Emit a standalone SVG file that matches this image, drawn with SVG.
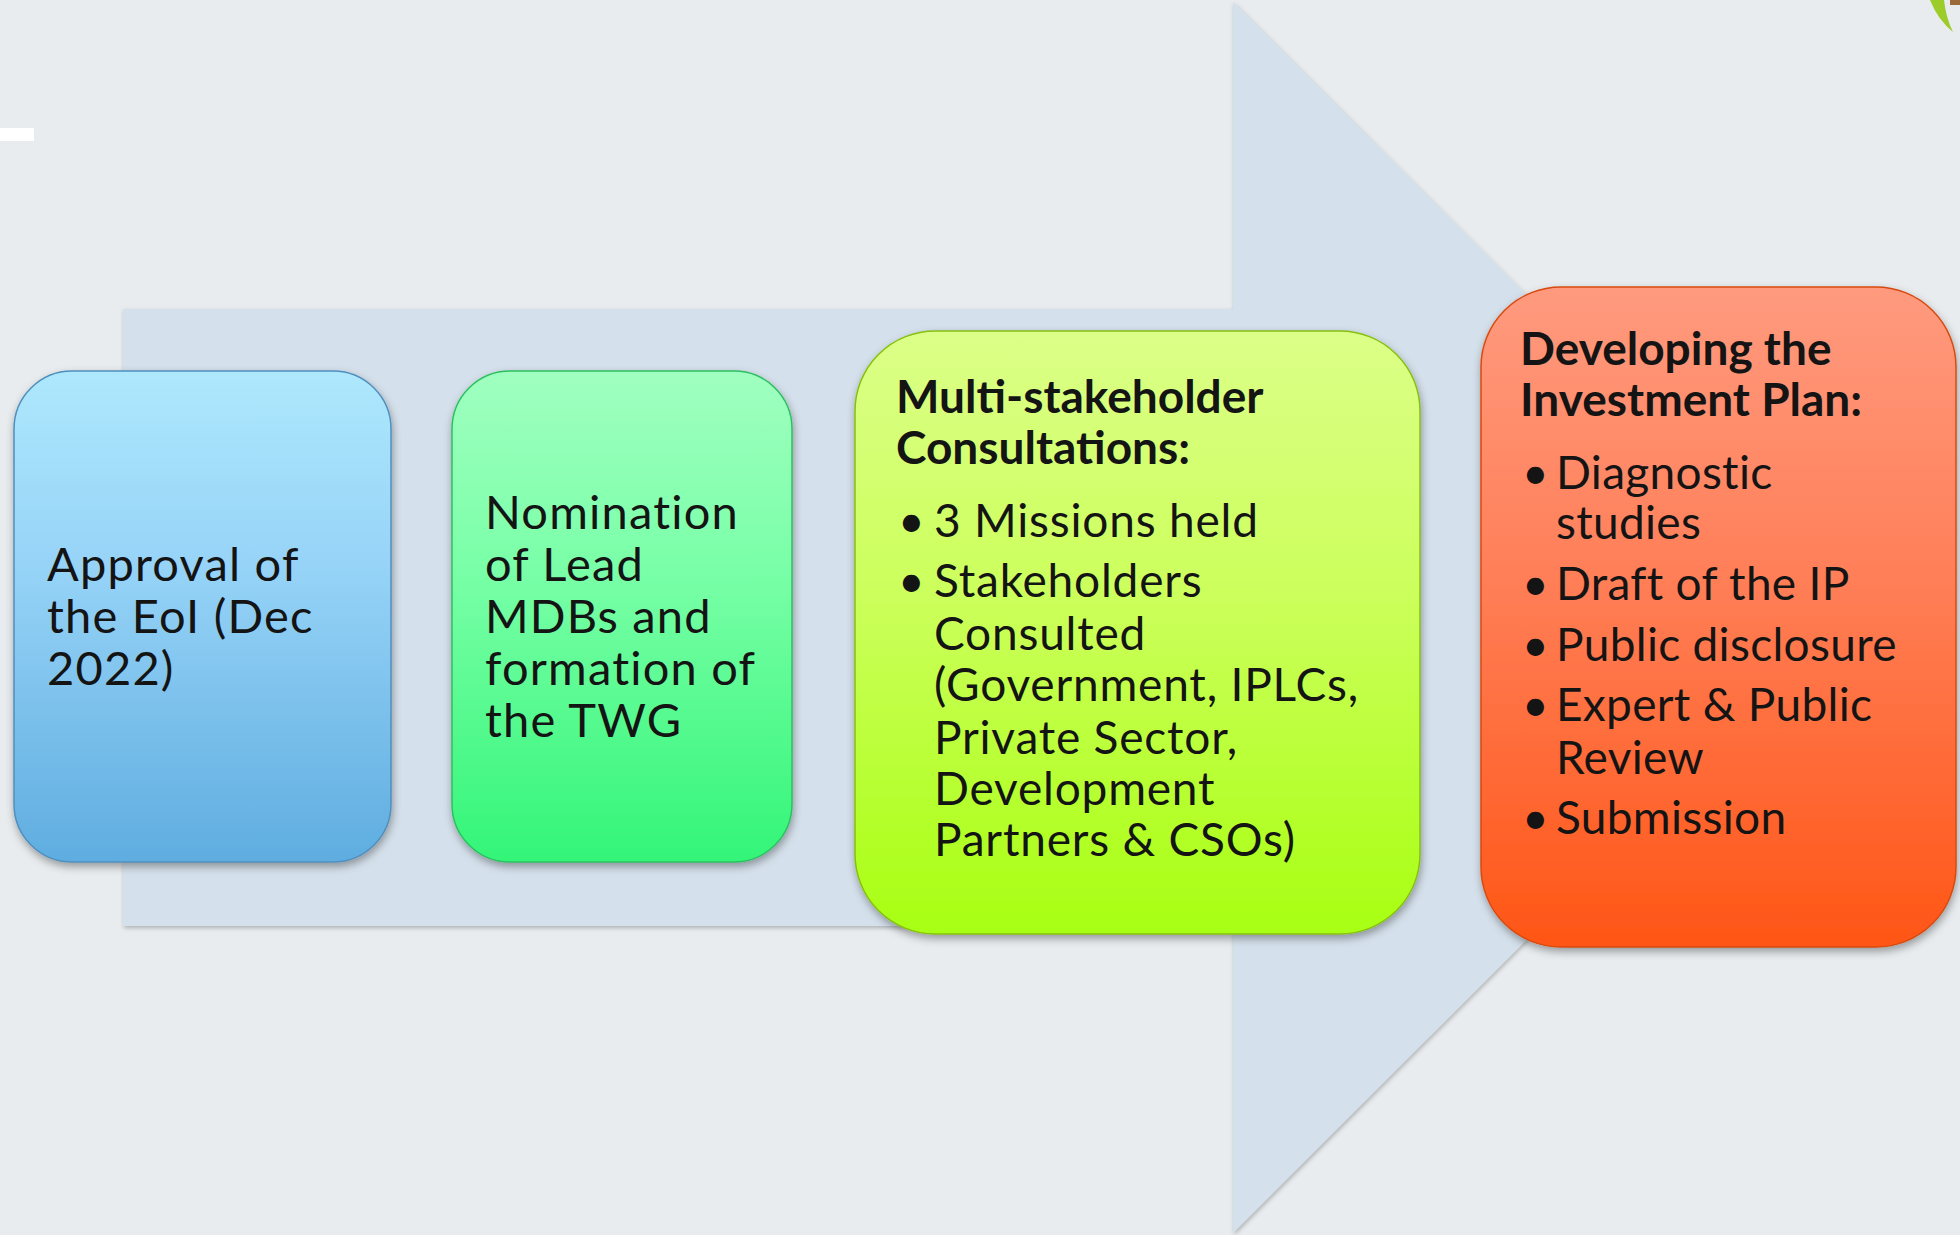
<svg xmlns="http://www.w3.org/2000/svg" width="1960" height="1235" viewBox="0 0 1960 1235">
<style>
  .t { font-family: Lato, "Noto Sans", "Liberation Sans", sans-serif; font-size: 46px; fill: #141414; letter-spacing: 0.8px; }
  .m { font-size: 47px; letter-spacing: 1.2px; }
  .n { letter-spacing: 0.3px; }
  .b { font-weight: bold; letter-spacing: 0; }
  .box { stroke-width: 1.5; }
</style>
<defs>
  <linearGradient id="gBlue" x1="0" y1="0" x2="0" y2="1">
    <stop offset="0" stop-color="#aee8fd"/>
    <stop offset="0.4" stop-color="#96d3f7"/>
    <stop offset="1" stop-color="#5fade0"/>
  </linearGradient>
  <linearGradient id="gGreen" x1="0" y1="0" x2="0" y2="1">
    <stop offset="0" stop-color="#a0ffc0"/>
    <stop offset="0.4" stop-color="#7affa8"/>
    <stop offset="1" stop-color="#33f578"/>
  </linearGradient>
  <linearGradient id="gLime" x1="0" y1="0" x2="0" y2="1">
    <stop offset="0" stop-color="#dcff88"/>
    <stop offset="0.45" stop-color="#cbff5a"/>
    <stop offset="1" stop-color="#a8ff12"/>
  </linearGradient>
  <linearGradient id="gOrange" x1="0" y1="0" x2="0" y2="1">
    <stop offset="0" stop-color="#ff9a7e"/>
    <stop offset="0.45" stop-color="#ff7e57"/>
    <stop offset="1" stop-color="#ff5616"/>
  </linearGradient>
  <filter id="sh" x="-10%" y="-10%" width="120%" height="120%">
    <feDropShadow dx="1" dy="4" stdDeviation="4" flood-color="#000" flood-opacity="0.35"/>
  </filter>
  <filter id="ash" x="-5%" y="-5%" width="110%" height="110%">
    <feDropShadow dx="1" dy="2" stdDeviation="2" flood-color="#000" flood-opacity="0.25"/>
  </filter>
</defs>
<rect width="1960" height="1235" fill="#e8ecee"/>
<rect x="0" y="128" width="34" height="13" fill="#ffffff"/>
<g id="logo">
  <path d="M1930,0 L1944,0 Q1946,18 1953,32 Q1938,20 1930,0 Z" fill="#9ccc2a"/>
  <rect x="1950" y="0" width="10" height="5" fill="#9a6a3a"/>
</g>
<g id="connectors">
  <path d="M123,309 L1233,309 L1233,2 L1849,617.5 L1233,1233 L1233,926 L123,926 Z" fill="#d4e0eb" filter="url(#ash)"/>
</g>
<g id="node1">
  <rect class="box" x="14" y="371" width="377" height="491" rx="58" fill="url(#gBlue)" stroke="#4f8fbd" filter="url(#sh)"/>
  <text class="t m"><tspan x="47" y="581">Approval of</tspan><tspan x="47" y="633">the EoI (Dec</tspan><tspan x="47" y="685">2022)</tspan></text>
</g>
<g id="node2">
  <rect class="box" x="452" y="371" width="340" height="491" rx="58" fill="url(#gGreen)" stroke="#2cc060" filter="url(#sh)"/>
  <text class="t m"><tspan x="485" y="529">Nomination</tspan><tspan x="485" y="581">of Lead</tspan><tspan x="485" y="633">MDBs and</tspan><tspan x="485" y="685">formation of</tspan><tspan x="485" y="737">the TWG</tspan></text>
</g>
<g id="node3">
  <rect class="box" x="855" y="331" width="565" height="603" rx="80" fill="url(#gLime)" stroke="#86c010" filter="url(#sh)"/>
  <text class="t b"><tspan x="896" y="413">Multi-stakeholder</tspan><tspan x="896" y="464">Consultations:</tspan></text>
  <text class="t"><tspan x="898" y="537">•</tspan><tspan x="934" y="537">3 Missions held</tspan><tspan x="898" y="597">•</tspan><tspan x="934" y="597">Stakeholders</tspan><tspan x="934" y="650">Consulted</tspan><tspan x="934" y="701">(Government, IPLCs,</tspan><tspan x="934" y="754">Private Sector,</tspan><tspan x="934" y="805">Development</tspan><tspan x="934" y="856">Partners &amp; CSOs)</tspan></text>
</g>
<g id="node4">
  <rect class="box" x="1481" y="287" width="475" height="660" rx="80" fill="url(#gOrange)" stroke="#d84a10" filter="url(#sh)"/>
  <text class="t b"><tspan x="1520" y="365">Developing the</tspan><tspan x="1520" y="416">Investment Plan:</tspan></text>
  <text class="t n"><tspan x="1522" y="489">•</tspan><tspan x="1556" y="489">Diagnostic</tspan><tspan x="1556" y="539">studies</tspan><tspan x="1522" y="600">•</tspan><tspan x="1556" y="600">Draft of the IP</tspan><tspan x="1522" y="661">•</tspan><tspan x="1556" y="661">Public disclosure</tspan><tspan x="1522" y="721">•</tspan><tspan x="1556" y="721">Expert &amp; Public</tspan><tspan x="1556" y="774">Review</tspan><tspan x="1522" y="834">•</tspan><tspan x="1556" y="834">Submission</tspan></text>
</g>
</svg>
